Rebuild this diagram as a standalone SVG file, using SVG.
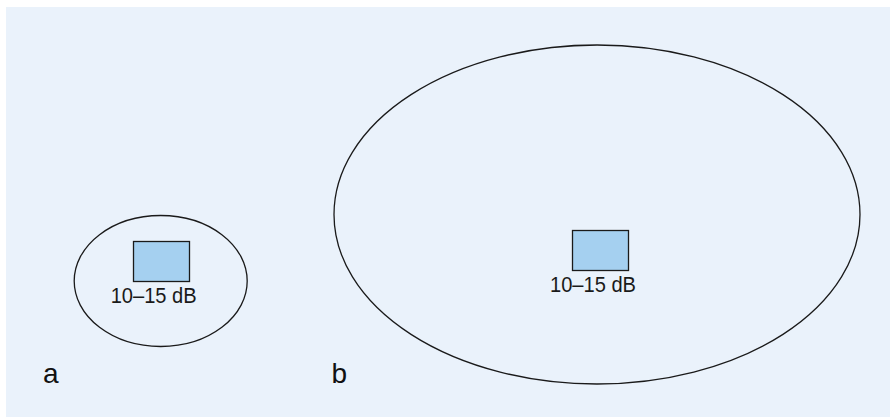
<svg xmlns="http://www.w3.org/2000/svg" width="890" height="417" viewBox="0 0 890 417">
<style>
.ell{fill:none;stroke:#1a1a1a;stroke-width:1.3}
.box{fill:#a5d0f0;stroke:#1a1a1a;stroke-width:1.3}
.lbl{font-family:"Liberation Sans",Arial,sans-serif;font-size:21.5px;fill:#1a1a1a}
.tag{font-family:"Liberation Sans",Arial,sans-serif;font-size:28px;fill:#111}
</style>
<rect x="6" y="7" width="884" height="410" fill="#eaf2fb"/>
<g id="node-a">
<ellipse class="ell" cx="160.7" cy="281" rx="86.5" ry="65.5"/>
<rect class="box" x="133.5" y="241.5" width="56" height="40"/>
<text class="lbl" x="110.7" y="303.3" textLength="86" lengthAdjust="spacingAndGlyphs">10–15 dB</text>
</g>
<g id="node-b">
<ellipse class="ell" cx="597" cy="214.5" rx="263" ry="169.5"/>
<rect class="box" x="572.5" y="230.5" width="56" height="40"/>
<text class="lbl" x="550" y="291.7" textLength="86" lengthAdjust="spacingAndGlyphs">10–15 dB</text>
</g>
<g id="connectors"/>
<text class="tag" x="43" y="383.3">a</text>
<text class="tag" x="331.5" y="383.3">b</text>
</svg>
